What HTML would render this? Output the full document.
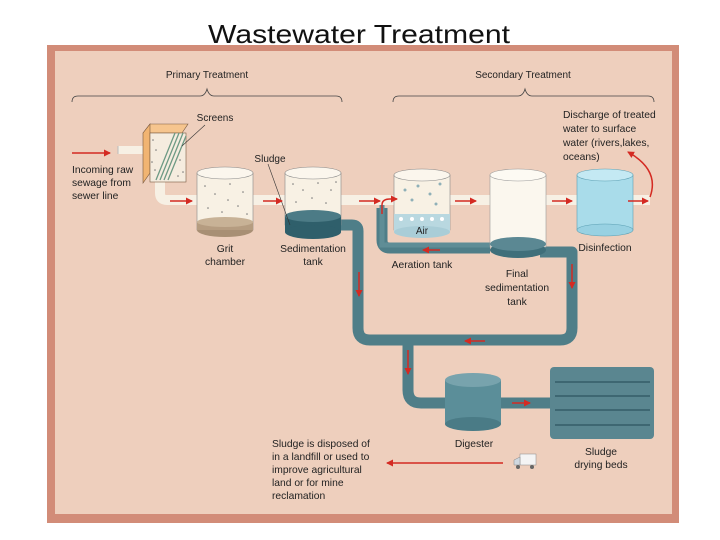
<!DOCTYPE html>
<html><head><meta charset="utf-8"><style>
html,body{margin:0;padding:0;background:#fff;}
svg{display:block;}
text{font-family:"Liberation Sans",sans-serif;fill:#222;}
</style></head><body>
<svg width="720" height="540" viewBox="0 0 720 540" xmlns="http://www.w3.org/2000/svg">
<defs>
<marker id="ah" markerWidth="8" markerHeight="8" refX="6" refY="4" orient="auto" markerUnits="userSpaceOnUse"><path d="M0,0.5 L7,4 L0,7.5 Z" fill="#d42a22"/></marker>
</defs>
<text x="359" y="43" text-anchor="middle" font-size="26" textLength="302" lengthAdjust="spacingAndGlyphs" style="fill:#111">Wastewater Treatment</text>
<rect x="47" y="45" width="632" height="478" fill="#d28c78"/>
<rect x="55" y="51" width="617" height="463" fill="#eecfbd"/>

<path d="M72,102 q0,-6 6,-6 L200,96 q5,0 7,-7 q2,7 7,7 L336,96 q6,0 6,6" fill="none" stroke="#444" stroke-width="0.8"/>
<path d="M393,102 q0,-6 6,-6 L518,96 q5,0 7,-7 q2,7 7,7 L648,96 q6,0 6,6" fill="none" stroke="#444" stroke-width="0.8"/>
<text x="207" y="78" font-size="10" text-anchor="middle">Primary Treatment</text>
<text x="523" y="78" font-size="10" text-anchor="middle">Secondary Treatment</text>

<g fill="none" stroke="#4f7e88" stroke-width="11" stroke-linejoin="round">
<path d="M336,225 L352,225 Q358,225 358,231 L358,328 Q358,340 370,340 L560,340 Q572,340 572,328 L572,252 L540,252"/>
<path d="M490,248 L390,248 Q382,248 382,240 L382,208"/>
<path d="M408,340 L408,390 Q408,403 421,403 L560,403"/>
</g>
<g fill="none" stroke="#5f8d96" stroke-width="5">
<path d="M382,205 L382,245 L490,245"/>
</g>

<path d="M152,150 L118,150" stroke="#f7f0e4" stroke-width="8" fill="none"/>
<path d="M118,146 v8" stroke="#bbb" stroke-width="1"/>
<path d="M160,180 L160,193 Q160,200 167,200 L650,200" stroke="#f7f0e4" stroke-width="10" fill="none"/>

<polygon points="143,133 150,124 188,124 182,133" fill="#f6c58e" stroke="#7a5a40" stroke-width="0.6"/>
<polygon points="143,133 150,124 150,173 143,183" fill="#f1b472" stroke="#7a5a40" stroke-width="0.6"/>
<rect x="150" y="133" width="36" height="49" fill="#f5ecdf" stroke="#7a5a40" stroke-width="0.6"/>
<g fill="#777"><circle cx="153" cy="140" r="0.8"/><circle cx="156" cy="150" r="0.8"/><circle cx="152" cy="162" r="0.8"/><circle cx="180" cy="160" r="0.8"/><circle cx="183" cy="172" r="0.8"/><circle cx="178" cy="176" r="0.8"/><circle cx="155" cy="170" r="0.8"/></g>
<g stroke="#6d9a84" stroke-width="1.3">
<line x1="156" y1="180" x2="175" y2="133"/><line x1="160" y1="180" x2="179" y2="133"/><line x1="164" y1="180" x2="183" y2="133"/><line x1="168" y1="180" x2="186" y2="136"/>
</g>
<line x1="182" y1="146" x2="205" y2="125" stroke="#333" stroke-width="0.6"/>
<text x="215" y="121" font-size="10" text-anchor="middle">Screens</text>

<rect x="197" y="173" width="56" height="57" fill="#f8f1e4" stroke="#888" stroke-width="0.6"/>
<ellipse cx="225" cy="230" rx="28" ry="7" fill="#a88f74"/>
<rect x="197" y="222" width="56" height="8" fill="#b59c80"/>
<ellipse cx="225" cy="222" rx="28" ry="5" fill="#c8b296"/>
<ellipse cx="225" cy="173" rx="28" ry="6" fill="#fbf6ed" stroke="#888" stroke-width="0.6"/>
<g fill="#777"><circle cx="205" cy="186" r="0.8"/><circle cx="215" cy="194" r="0.8"/><circle cx="230" cy="184" r="0.8"/><circle cx="243" cy="192" r="0.8"/><circle cx="208" cy="208" r="0.8"/><circle cx="222" cy="212" r="0.8"/><circle cx="238" cy="206" r="0.8"/><circle cx="247" cy="214" r="0.8"/><circle cx="228" cy="200" r="0.8"/></g>

<rect x="285" y="173" width="56" height="52" fill="#f8f1e4" stroke="#888" stroke-width="0.6"/>
<rect x="285" y="216" width="56" height="16" fill="#2f5f6b"/>
<ellipse cx="313" cy="232" rx="28" ry="7" fill="#2f5f6b"/>
<ellipse cx="313" cy="216" rx="28" ry="6" fill="#4c7b86"/>
<ellipse cx="313" cy="173" rx="28" ry="6" fill="#fbf6ed" stroke="#888" stroke-width="0.6"/>
<g fill="#777"><circle cx="293" cy="184" r="0.8"/><circle cx="303" cy="190" r="0.8"/><circle cx="318" cy="183" r="0.8"/><circle cx="331" cy="190" r="0.8"/><circle cx="296" cy="202" r="0.8"/><circle cx="312" cy="198" r="0.8"/><circle cx="326" cy="203" r="0.8"/><circle cx="336" cy="182" r="0.8"/></g>
<line x1="268" y1="164" x2="290" y2="225" stroke="#333" stroke-width="0.6"/>
<text x="270" y="162" font-size="10" text-anchor="middle">Sludge</text>

<rect x="394" y="175" width="56" height="55" fill="#f8f1e4" stroke="#888" stroke-width="0.6"/>
<rect x="394" y="214" width="56" height="18" fill="#b9d8e0"/>
<ellipse cx="422" cy="232" rx="28" ry="6" fill="#a9cdd7"/>
<ellipse cx="422" cy="175" rx="28" ry="6" fill="#fbf6ed" stroke="#888" stroke-width="0.6"/>
<g fill="#fff"><circle cx="401" cy="219" r="2"/><circle cx="412" cy="219" r="2"/><circle cx="422" cy="219" r="2"/><circle cx="432" cy="219" r="2"/><circle cx="442" cy="219" r="2"/></g>
<g fill="#8fb0b8"><circle cx="405" cy="190" r="1.5"/><circle cx="418" cy="186" r="1.5"/><circle cx="430" cy="194" r="1.5"/><circle cx="440" cy="184" r="1.5"/><circle cx="412" cy="200" r="1.5"/><circle cx="436" cy="204" r="1.5"/></g>
<text x="422" y="234" font-size="10" text-anchor="middle">Air</text>

<rect x="490" y="175" width="56" height="72" fill="#fbf7ee" stroke="#999" stroke-width="0.6"/>
<ellipse cx="518" cy="250" rx="28" ry="8" fill="#3f6f7a"/>
<ellipse cx="518" cy="244" rx="28" ry="7" fill="#5b8893"/>
<ellipse cx="518" cy="175" rx="28" ry="6" fill="#fdfaf3" stroke="#999" stroke-width="0.6"/>

<rect x="577" y="175" width="56" height="55" fill="#a9dcea" stroke="#5b9fb3" stroke-width="0.6"/>
<ellipse cx="605" cy="230" rx="28" ry="6" fill="#98d1e2" stroke="#5b9fb3" stroke-width="0.6"/>
<ellipse cx="605" cy="175" rx="28" ry="6" fill="#c4e9f3" stroke="#5b9fb3" stroke-width="0.6"/>

<rect x="445" y="380" width="56" height="44" fill="#5b8e99"/>
<ellipse cx="473" cy="424" rx="28" ry="7" fill="#4a7b86"/>
<ellipse cx="473" cy="380" rx="28" ry="7" fill="#78a3ad"/>

<rect x="550" y="367" width="104" height="72" rx="4" fill="#5a8690"/>
<g stroke="#2e5560" stroke-width="1.2"><line x1="555" y1="382" x2="650" y2="382"/><line x1="555" y1="396" x2="650" y2="396"/><line x1="555" y1="410" x2="650" y2="410"/><line x1="555" y1="425" x2="650" y2="425"/></g>

<rect x="520" y="454" width="16" height="11" fill="#f4f4f4" stroke="#888" stroke-width="0.5"/>
<path d="M520,457 L514,460 L514,465 L520,465 Z" fill="#cfd8e0" stroke="#888" stroke-width="0.5"/>
<circle cx="518" cy="467" r="2" fill="#666"/><circle cx="532" cy="467" r="2" fill="#666"/>

<g stroke="#d42a22" stroke-width="1.5" fill="none" marker-end="url(#ah)">
<line x1="72" y1="153" x2="110" y2="153"/>
<line x1="170" y1="201" x2="192" y2="201"/>
<line x1="263" y1="201" x2="282" y2="201"/>
<line x1="359" y1="201" x2="380" y2="201"/>
<path d="M382,214 L382,205 Q382,199 390,199 L397,199"/>
<line x1="455" y1="201" x2="476" y2="201"/>
<line x1="552" y1="201" x2="572" y2="201"/>
<line x1="628" y1="201" x2="648" y2="201"/>
<path d="M650,197 Q660,170 628,152"/>
<line x1="359" y1="272" x2="359" y2="296"/>
<line x1="572" y1="264" x2="572" y2="288"/>
<line x1="440" y1="250" x2="423" y2="250"/>
<line x1="485" y1="341" x2="465" y2="341"/>
<line x1="408" y1="350" x2="408" y2="374"/>
<line x1="512" y1="403" x2="530" y2="403"/>
<line x1="503" y1="463" x2="387" y2="463"/>
</g>

<g font-size="10.3">
<text x="72" y="173">Incoming raw</text>
<text x="72" y="186">sewage from</text>
<text x="72" y="199">sewer line</text>
<text x="225" y="252" text-anchor="middle">Grit</text>
<text x="225" y="265" text-anchor="middle">chamber</text>
<text x="313" y="252" text-anchor="middle">Sedimentation</text>
<text x="313" y="265" text-anchor="middle">tank</text>
<text x="422" y="268" text-anchor="middle">Aeration tank</text>
<text x="517" y="277" text-anchor="middle">Final</text>
<text x="517" y="291" text-anchor="middle">sedimentation</text>
<text x="517" y="305" text-anchor="middle">tank</text>
<text x="605" y="251" text-anchor="middle">Disinfection</text>
<text x="563" y="118">Discharge of treated</text>
<text x="563" y="132">water to surface</text>
<text x="563" y="146">water (rivers,lakes,</text>
<text x="563" y="160">oceans)</text>
<text x="474" y="447" text-anchor="middle">Digester</text>
<text x="601" y="455" text-anchor="middle">Sludge</text>
<text x="601" y="468" text-anchor="middle">drying beds</text>
<text x="272" y="447">Sludge is disposed of</text>
<text x="272" y="460">in a landfill or used to</text>
<text x="272" y="473">improve agricultural</text>
<text x="272" y="486">land or for mine</text>
<text x="272" y="499">reclamation</text>
</g>
</svg>
</body></html>
